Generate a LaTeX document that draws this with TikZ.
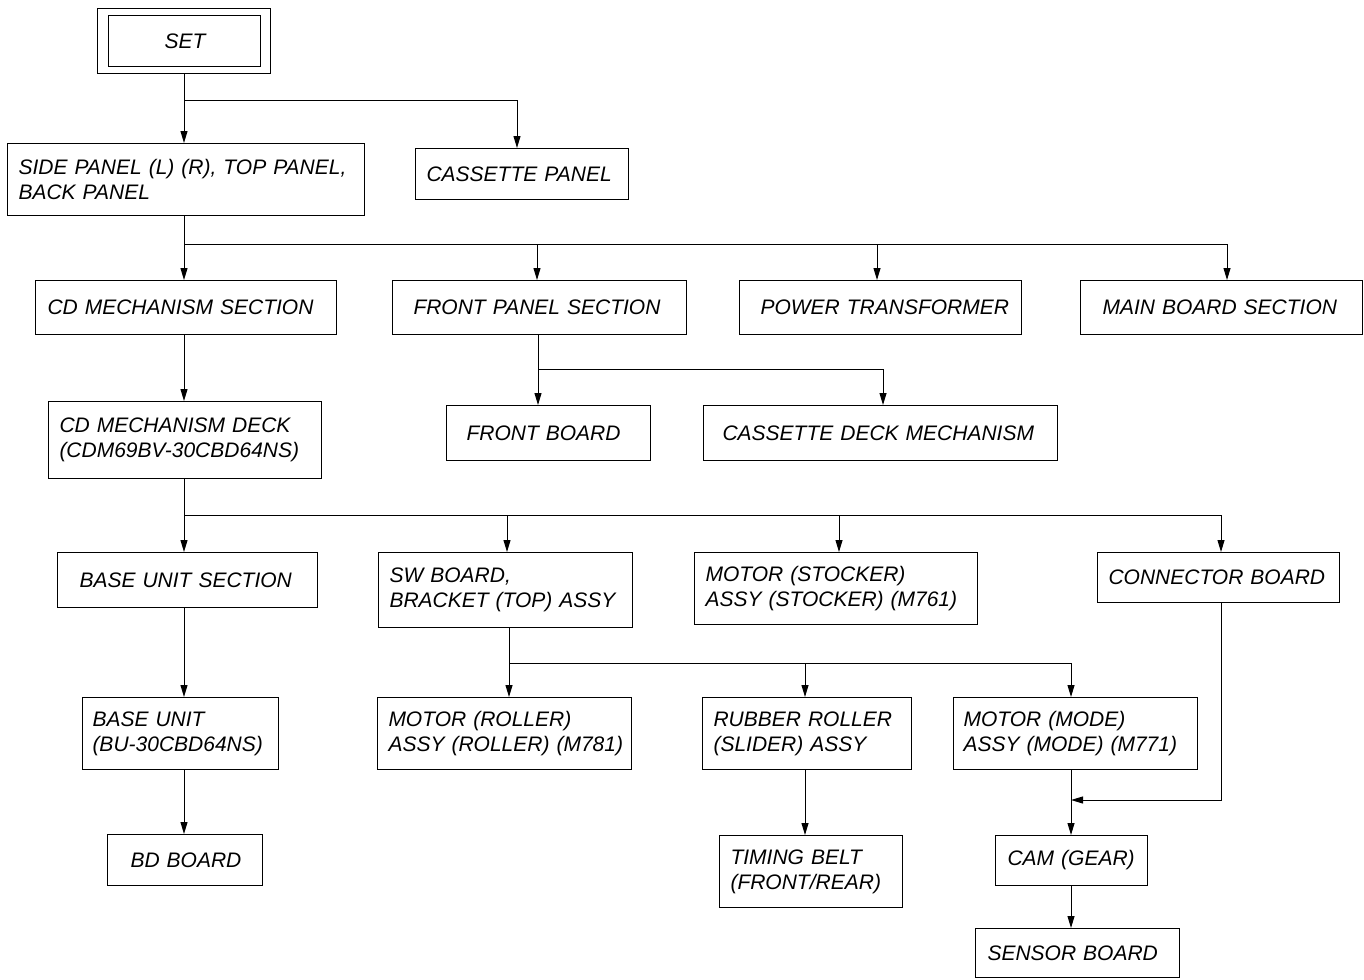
\documentclass[tikz,border=0pt]{standalone}
\usepackage{fontspec}
\setmainfont{Liberation Sans}
\usetikzlibrary{arrows.meta}
\hbadness=10000
\hfuzz=100pt
% \bx{name}{x1}{y1}{x2}{y2}{left padding}{text}
\newcommand\bx[7]{%
  \pgfmathsetmacro\bxtw{#4-#2-2*#6}%
  \pgfmathsetmacro\bxth{#5-#3}%
  \node[box,inner xsep=#6pt,text width=\bxtw pt,minimum height=\bxth pt] (#1) at (#2,#3) {#7};}
\begin{document}
\begin{tikzpicture}[x=1pt,y=-1pt,
  box/.style={draw,line width=1pt,inner ysep=0pt,anchor=north west,align=left,
    font=\fontsize{21}{25}\selectfont\itshape},
  ln/.style={line width=1pt},
  arr/.style={line width=1pt,-{Triangle[length=12pt,width=7pt]}}]
\useasboundingbox (0,0) rectangle (1364,979);
% boxes
\node[draw,line width=1pt,inner sep=0pt,minimum width=173pt,minimum height=65pt,anchor=north west] (setout) at (97,8) {};
\bx{set}{108}{15}{260}{66}{56}{SET}
\bx{side}{7}{143}{364}{215}{11}{SIDE~PANEL~(L)~(R),~TOP~PANEL,\\BACK~PANEL}
\bx{cass}{415}{148}{628}{199}{11}{CASSETTE~PANEL}
\bx{cdms}{35}{280}{336}{334}{12}{CD~MECHANISM~SECTION}
\bx{fps}{392}{280}{686}{334}{21}{FRONT~PANEL~SECTION}
\bx{pt}{739}{280}{1021}{334}{21}{\mbox{POWER~TRANSFORMER}}
\bx{mbs}{1080}{280}{1362}{334}{22}{MAIN~BOARD~SECTION}
\bx{fb}{446}{405}{650}{460}{20}{FRONT~BOARD}
\bx{cdm}{703}{405}{1057}{460}{19}{CASSETTE~DECK~MECHANISM}
\bx{deck}{48}{401}{321}{478}{11}{CD~MECHANISM~DECK\\\mbox{(CDM69BV-30CBD64NS)}}
\bx{bus}{57}{552}{317}{607}{22}{BASE~UNIT~SECTION}
\bx{sw}{378}{552}{632}{627}{11}{SW~BOARD,\\BRACKET~(TOP)~ASSY}
\bx{stk}{694}{552}{977}{624}{11}{MOTOR~(STOCKER)\\ASSY~(STOCKER)~(M761)}
\bx{con}{1097}{552}{1339}{602}{11}{CONNECTOR~BOARD}
\bx{bu}{82}{697}{278}{769}{10}{BASE~UNIT\\\mbox{(BU-30CBD64NS)}}
\bx{bd}{107}{834}{262}{885}{23}{BD~BOARD}
\bx{rol}{377}{697}{631}{769}{11}{MOTOR~(ROLLER)\\ASSY~(ROLLER)~(M781)}
\bx{rub}{702}{697}{911}{769}{11}{RUBBER~ROLLER\\(SLIDER)~ASSY}
\bx{mode}{953}{697}{1197}{769}{10}{MOTOR~(MODE)\\ASSY~(MODE)~(M771)}
\bx{tb}{719}{835}{902}{907}{11}{TIMING~BELT\\\mbox{(FRONT/REAR)}}
\bx{cam}{995}{835}{1147}{885}{12}{CAM~(GEAR)}
\bx{sen}{975}{928}{1179}{977}{12}{SENSOR~BOARD}
% junctions
\coordinate (j1) at (184,101);
\coordinate (j2) at (184,244);
\coordinate (j3) at (538,369);
\coordinate (j4) at (184,515);
\coordinate (j5) at (509,663);
\coordinate (jm) at (1071,800);
\coordinate (jc) at (1221,800);
% connectors
\draw[ln] (j1 |- setout.south) -- (j1);
\draw[arr] (j1) -- (j1 |- side.north);
\draw[arr] (j1) -| (517,0 |- cass.north);
\draw[ln] (j2 |- side.south) -- (j2);
\draw[arr] (j2) -- (j2 |- cdms.north);
\draw[ln] (j2) -- (1227,244);
\draw[arr] (537,244) -- (537,0 |- fps.north);
\draw[arr] (877,244) -- (877,0 |- pt.north);
\draw[arr] (1227,244) -- (1227,0 |- mbs.north);
\draw[arr] (j2 |- cdms.south) -- (j2 |- deck.north);
\draw[ln] (j3 |- fps.south) -- (j3);
\draw[arr] (j3) -- (j3 |- fb.north);
\draw[arr] (j3) -| (883,0 |- cdm.north);
\draw[ln] (j4 |- deck.south) -- (j4);
\draw[arr] (j4) -- (j4 |- bus.north);
\draw[ln] (j4) -- (1221,515);
\draw[arr] (507,515) -- (507,0 |- sw.north);
\draw[arr] (839,515) -- (839,0 |- stk.north);
\draw[arr] (1221,515) -- (1221,0 |- con.north);
\draw[arr] (j4 |- bus.south) -- (j4 |- bu.north);
\draw[arr] (j4 |- bu.south) -- (j4 |- bd.north);
\draw[ln] (j5 |- sw.south) -- (j5);
\draw[arr] (j5) -- (j5 |- rol.north);
\draw[ln] (j5) -- (1071,663);
\draw[arr] (805,663) -- (805,0 |- rub.north);
\draw[arr] (1071,663) -- (1071,0 |- mode.north);
\draw[arr] (805,0 |- rub.south) -- (805,0 |- tb.north);
\draw[arr] (jm |- mode.south) -- (jm |- cam.north);
\draw[arr] (jc |- con.south) -- (jc) -- (jm);
\draw[arr] (jm |- cam.south) -- (jm |- sen.north);
\end{tikzpicture}
\end{document}
